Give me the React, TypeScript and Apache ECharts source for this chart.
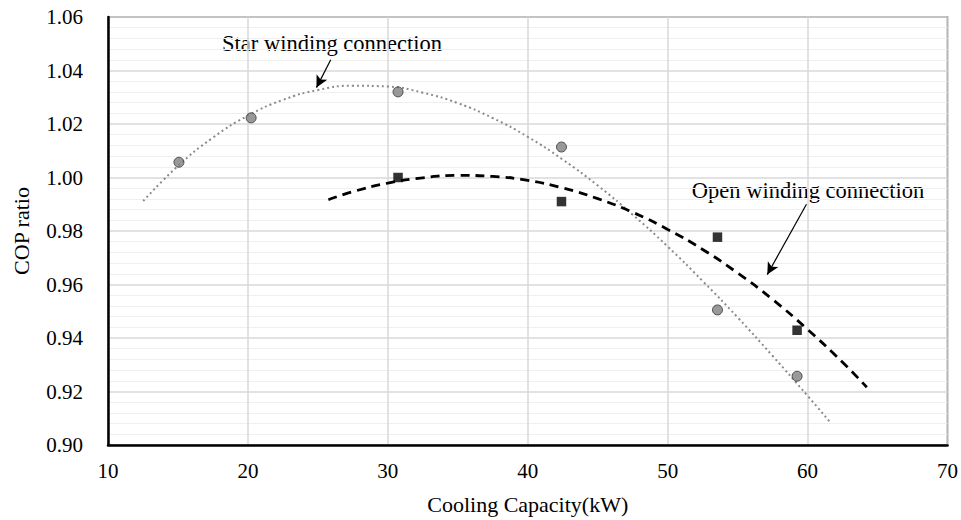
import React, { useEffect, useRef } from "react";
import * as echarts from "echarts";

// Measured points: [cooling capacity (kW), COP ratio]
const starPoints: [number, number][] = [
  [15.07, 1.0057],
  [20.23, 1.0223],
  [30.73, 1.032],
  [42.41, 1.0114],
  [53.56, 0.9505],
  [59.25, 0.9257],
];
const openPoints: [number, number][] = [
  [30.73, 1.0],
  [42.41, 0.991],
  [53.56, 0.9777],
  [59.25, 0.9429],
];

// Trend curves, sampled along each fitted curve
const starTrend: [number, number][] = [
  [12.52, 0.9912],
  [15, 1.0043],
  [17.5, 1.0149],
  [20, 1.0231],
  [22.5, 1.029],
  [25, 1.0327],
  [27.5, 1.0343],
  [30, 1.034],
  [32.5, 1.0317],
  [35, 1.0278],
  [37.5, 1.0222],
  [40, 1.0152],
  [42.5, 1.0067],
  [45, 0.997],
  [47.5, 0.9861],
  [50, 0.9742],
  [52.5, 0.9613],
  [55, 0.9477],
  [57.5, 0.9333],
  [60, 0.9184],
  [61.62, 0.9085],
];
const openTrend: [number, number][] = [
  [25.75, 0.9917],
  [27.5, 0.9947],
  [30, 0.9979],
  [32.5, 0.9999],
  [35, 1.0008],
  [37.5, 1.0004],
  [40, 0.9989],
  [42.5, 0.9961],
  [45, 0.9921],
  [47.5, 0.987],
  [50, 0.9806],
  [52.5, 0.9731],
  [55, 0.9643],
  [57.5, 0.9544],
  [60, 0.9432],
  [62.5, 0.9309],
  [64.23, 0.9216],
];

// Annotation arrows: [start, tip] in data units
const starArrow: [number, number][] = [
  [25.92, 1.044],
  [24.9, 1.0336],
];
const openArrow: [number, number][] = [
  [59.92, 0.99],
  [57.12, 0.9637],
];

const xMin = 10;
const xMax = 70;
const xStep = 10;
const yMin = 0.9;
const yMax = 1.06;
const yStep = 0.02;

const FONT = "'Liberation Serif', 'Times New Roman', serif";

function arrowLine(pts: [number, number][]) {
  return {
    silent: true,
    symbol: ["none", "arrow"],
    symbolSize: [9, 12],
    lineStyle: { color: "#000", width: 1.2, type: "solid" },
    label: { show: false },
    data: [[{ coord: pts[0] }, { coord: pts[1] }]],
  };
}

export default function App() {
  const ref = useRef<HTMLDivElement>(null);

  useEffect(() => {
    if (!ref.current) return;
    const chart = echarts.init(ref.current, null, { renderer: "svg" });
    chart.setOption({
      animation: false,
      backgroundColor: "#fff",
      grid: {
        left: 108,
        right: 10,
        top: 17,
        bottom: 73,
        show: true,
        borderColor: "#595959",
        borderWidth: 1.5,
      },
      xAxis: {
        type: "value",
        min: xMin,
        max: xMax,
        interval: xStep,
        name: "Cooling Capacity(kW)",
        nameLocation: "middle",
        nameGap: 48,
        nameTextStyle: { color: "#000", fontSize: 22, fontFamily: FONT },
        axisLine: { show: true, lineStyle: { color: "#000", width: 2.5 } },
        axisTick: { show: false },
        axisLabel: { color: "#000", fontSize: 21, fontFamily: FONT, margin: 15 },
        splitLine: { show: true, lineStyle: { color: "#d9d9d9", width: 1.5 } },
      },
      yAxis: {
        type: "value",
        min: yMin,
        max: yMax,
        interval: yStep,
        name: "COP ratio",
        nameLocation: "middle",
        nameGap: 76,
        nameTextStyle: { color: "#000", fontSize: 22, fontFamily: FONT },
        axisLine: { show: true, onZero: false, lineStyle: { color: "#000", width: 2.5 } },
        axisTick: { show: false },
        axisLabel: {
          color: "#000",
          fontSize: 21,
          fontFamily: FONT,
          margin: 25,
          formatter: (v: number) => v.toFixed(2),
        },
        splitLine: { show: true, lineStyle: { color: "#d9d9d9", width: 1.5 } },
        minorTick: { show: false, splitNumber: 5 },
        minorSplitLine: { show: true, lineStyle: { color: "#efefef", width: 1.2 } },
      },
      series: [
        {
          name: "Star trend",
          type: "line",
          data: starTrend,
          smooth: true,
          showSymbol: false,
          symbol: "none",
          z: 2,
          lineStyle: { color: "#8a8a8a", width: 2, type: [2, 3] },
          markLine: arrowLine(starArrow),
        },
        {
          name: "Open trend",
          type: "line",
          data: openTrend,
          smooth: true,
          showSymbol: false,
          symbol: "none",
          z: 2,
          lineStyle: { color: "#000", width: 2.8, type: [9, 6] },
          markLine: arrowLine(openArrow),
        },
        {
          name: "Star winding connection",
          type: "scatter",
          data: starPoints,
          symbol: "circle",
          symbolSize: 10,
          z: 3,
          itemStyle: { color: "#808080", borderColor: "#333", borderWidth: 1 },
        },
        {
          name: "Open winding connection",
          type: "scatter",
          data: openPoints,
          symbol: "rect",
          symbolSize: 9.5,
          z: 3,
          itemStyle: { color: "#000" },
        },
      ],
      graphic: [
        {
          type: "text",
          x: 332,
          y: 43,
          style: {
            text: "Star winding connection",
            fontSize: 22.5,
            fontFamily: FONT,
            fill: "#000",
            align: "center",
            verticalAlign: "middle",
          },
        },
        {
          type: "text",
          x: 808,
          y: 190,
          style: {
            text: "Open winding connection",
            fontSize: 22.5,
            fontFamily: FONT,
            fill: "#000",
            align: "center",
            verticalAlign: "middle",
          },
        },
      ],
    });
    return () => chart.dispose();
  }, []);

  return (
    <div
      ref={ref}
      style={{ position: "absolute", left: 0, top: 0, width: 961, height: 520 }}
    />
  );
}
